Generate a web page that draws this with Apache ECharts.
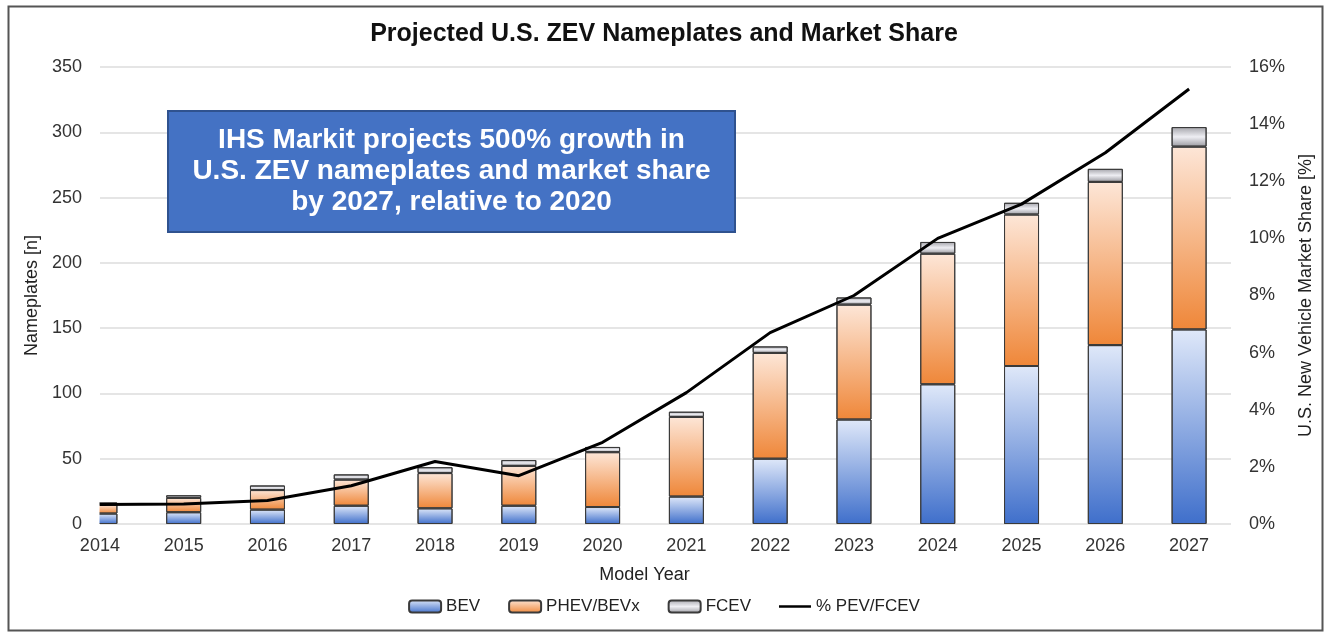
<!DOCTYPE html>
<html>
<head>
<meta charset="utf-8">
<script src="https://cdn.jsdelivr.net/npm/echarts@6/dist/echarts.min.js"></script>
<style>
  html, body { margin: 0; padding: 0; background: #fff; }
  #container { width: 1328px; height: 634px; }
</style>
</head>
<body>
<div id="container"></div>
<script>
// model years and values
var years = ['2014', '2015', '2016', '2017', '2018', '2019', '2020', '2021', '2022', '2023', '2024', '2025', '2026', '2027'];
var bev   = [8, 9, 11, 14, 12, 14, 13, 21, 50, 80, 107, 121, 137, 149];
var phev  = [7, 11, 15, 20, 27, 30.5, 42, 61, 81, 88, 100, 116, 125, 140];
var fcev  = [1.5, 2, 3.5, 4, 4.5, 4.5, 4, 4, 5, 5.5, 9, 9, 10, 15];
var share = [0.68, 0.70, 0.82, 1.34, 2.19, 1.69, 2.86, 4.6, 6.7, 8.0, 10.0, 11.2, 13.0, 15.23];

var dom = document.getElementById("container");
var myChart = echarts.init(dom);

function vgrad(top, bottom) {
  return new echarts.graphic.LinearGradient(0, 0, 0, 1, [
    { offset: 0, color: top },
    { offset: 1, color: bottom }
  ]);
}

var font = 'Liberation Sans, Arial, sans-serif';
var barBorder = { borderColor: '#3a3a3a', borderWidth: 1 };

var option = {
  backgroundColor: '#fff',
  textStyle: { fontFamily: font },
  title: {
    text: 'Projected U.S. ZEV Nameplates and Market Share',
    left: 'center',
    top: 17,
    textStyle: { fontSize: 25, fontWeight: 'bold', color: '#111', fontFamily: font }
  },
  // grid 0 holds the marks, grid 1 only the left axis + gridlines (plot starts at the first year)
  grid: [
    { left: 58, right: 97, top: 67, bottom: 110 },
    { left: 100, right: 97, top: 67, bottom: 110 }
  ],
  legend: {
    bottom: 14,
    left: 'center',
    itemWidth: 32,
    itemHeight: 12,
    itemGap: 28,
    textStyle: { fontSize: 17, color: '#222', fontFamily: font },
    data: ['BEV', 'PHEV/BEVx', 'FCEV', {
      name: '% PEV/FCEV',
      icon: 'path://M0,0 L40,0 L40,3.2 L0,3.2 Z',
      itemStyle: { color: '#000', borderWidth: 0 }
    }]
  },
  xAxis: [
    {
      type: 'category',
      gridIndex: 0,
      data: years,
      boundaryGap: true,
      name: 'Model Year',
      nameLocation: 'middle',
      nameGap: 42,
      nameTextStyle: { fontSize: 18, color: '#222' },
      axisLine: { show: false },
      axisTick: { show: false },
      splitLine: { show: false },
      axisLabel: { fontSize: 18, color: '#333', margin: 13 }
    },
    { type: 'value', gridIndex: 1, show: false, min: 0, max: 1 }
  ],
  yAxis: [
    { type: 'value', gridIndex: 0, min: 0, max: 350, interval: 50, show: false },
    {
      type: 'value',
      gridIndex: 0,
      position: 'right',
      min: 0, max: 16, interval: 2,
      name: 'U.S. New Vehicle Market Share [%]',
      nameLocation: 'middle',
      nameGap: 66,
      nameRotate: 90,
      nameTextStyle: { fontSize: 18, color: '#222' },
      axisLine: { show: false },
      axisTick: { show: false },
      axisLabel: { fontSize: 18, color: '#333', margin: 18, formatter: '{value}%' },
      splitLine: { show: false }
    },
    {
      type: 'value',
      gridIndex: 1,
      position: 'left',
      min: 0, max: 350, interval: 50,
      name: 'Nameplates [n]',
      nameLocation: 'middle',
      nameGap: 52,
      nameTextStyle: { fontSize: 18, color: '#222' },
      axisLine: { show: false },
      axisTick: { show: false },
      axisLabel: { fontSize: 18, color: '#333', margin: 18 },
      splitLine: { lineStyle: { color: '#dcdcdc', width: 1.5 } }
    }
  ],
  series: [
    {
      name: 'BEV', type: 'bar', stack: 'n', barWidth: 35,
      itemStyle: Object.assign({ color: vgrad('#dfe8f9', '#3f6fcb') }, barBorder),
      data: bev
    },
    {
      name: 'PHEV/BEVx', type: 'bar', stack: 'n', barWidth: 35,
      itemStyle: Object.assign({ color: vgrad('#fde6d7', '#ef8739') }, barBorder),
      data: phev
    },
    {
      name: 'FCEV', type: 'bar', stack: 'n', barWidth: 35,
      itemStyle: Object.assign({
        color: new echarts.graphic.LinearGradient(0, 0, 0, 1, [
          { offset: 0, color: '#a4a4aa' },
          { offset: 0.5, color: '#eeeef3' },
          { offset: 1, color: '#9a9aa0' }
        ])
      }, barBorder),
      data: fcev
    },
    {
      name: '% PEV/FCEV', type: 'line', yAxisIndex: 1,
      showSymbol: false, symbol: 'none', z: 5,
      lineStyle: { color: '#000', width: 3 },
      itemStyle: { color: '#000' },
      data: share
    }
  ],
  graphic: [
    {
      type: 'rect', left: 6, top: 4,
      shape: { width: 1314, height: 624 },
      style: { fill: 'none', stroke: '#555', lineWidth: 2 },
      silent: true
    },
    {
      // the first bar is cut at the plot's left edge
      type: 'rect', x: 82, y: 470, z: 4,
      shape: { width: 17.5, height: 56 },
      style: { fill: '#fff' },
      silent: true
    },
    {
      type: 'rect', x: 168, y: 111, z: 10,
      shape: { width: 567, height: 121 },
      style: { fill: '#4472c4', stroke: '#2f528f', lineWidth: 2 }
    },
    {
      type: 'text', x: 451.5, y: 171, z: 11,
      style: {
        text: 'IHS Markit projects 500% growth in\nU.S. ZEV nameplates and market share\nby 2027, relative to 2020',
        fill: '#fff',
        font: 'bold 28px Liberation Sans, Arial, sans-serif',
        lineHeight: 31,
        align: 'center',
        verticalAlign: 'middle'
      }
    }
  ]
};

myChart.setOption(option);
</script>
</body>
</html>
